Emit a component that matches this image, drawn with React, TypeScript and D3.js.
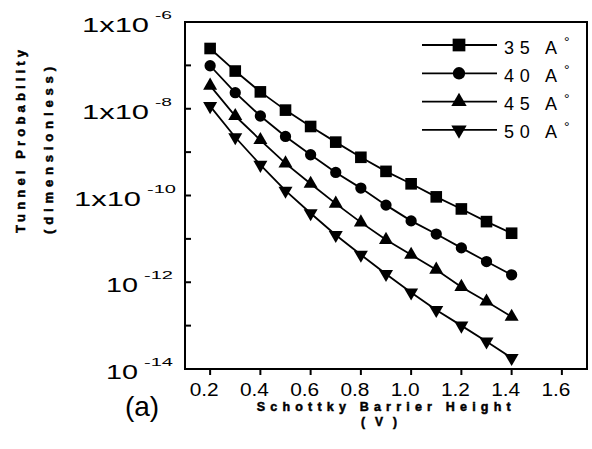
import React, { useEffect, useRef } from 'react';
import { select, scaleLinear, scaleLog, line, symbol, symbolSquare, symbolCircle, symbolTriangle } from 'd3';

// barrier height (V)
const voltages = [0.2, 0.3, 0.4, 0.5, 0.6, 0.7, 0.8, 0.9, 1.0, 1.1, 1.2, 1.3, 1.4];
// tunnel probability per barrier width
const p35 = [2.45e-7, 7.4e-8, 2.45e-8, 9.3e-9, 3.9e-9, 1.7e-9, 7.6e-10, 3.6e-10, 1.86e-10, 9.3e-11, 4.9e-11, 2.5e-11, 1.35e-11];
const p40 = [9.8e-8, 2.35e-8, 6.8e-9, 2.3e-9, 8.7e-10, 3.4e-10, 1.48e-10, 6.0e-11, 2.6e-11, 1.29e-11, 6.2e-12, 3.0e-12, 1.48e-12];
const p45 = [3.4e-8, 6.8e-9, 1.9e-9, 5.5e-10, 1.86e-10, 6.5e-11, 2.4e-11, 9.5e-12, 4.3e-12, 1.95e-12, 7.8e-13, 3.6e-13, 1.6e-13];
const p50 = [1.15e-8, 2.2e-9, 5.1e-10, 1.29e-10, 3.9e-11, 1.23e-11, 4.3e-12, 1.55e-12, 5.8e-13, 2.3e-13, 1.0e-13, 4.3e-14, 1.8e-14];
const seriesNames = ['35 A', '40 A', '45 A', '50 A'];

const xTicks = [0.2, 0.4, 0.6, 0.8, 1.0, 1.2, 1.4, 1.6];
const xTickLabels = ['0.2', '0.4', '0.6', '0.8', '1.0', '1.2', '1.4', '1.6'];
const yMajor = [1e-6, 1e-8, 1e-10, 1e-12, 1e-14];
const yMinor = [1e-7, 1e-9, 1e-11, 1e-13];
const yBase = ['1x10', '1x10', '1x10', '10', '10'];
const yExp = ['-6', '-8', '-10', '-12', '-14'];

const FONT = '"Liberation Sans", Arial, sans-serif';

export default function App() {
  const svgRef = useRef<SVGSVGElement>(null);

  useEffect(() => {
    const svg = select(svgRef.current);
    svg.selectAll('*').remove();

    const left = 185, right = 587, top = 22, bottom = 369;
    const x = scaleLinear().domain([0.1, 1.7]).range([left, right]);
    const y = scaleLog().domain([1e-14, 1e-6]).range([bottom, top]);

    const allSeries = [p35, p40, p45, p50];
    const shapes = [
      { type: symbolSquare, size: 135, rot: 0 },
      { type: symbolCircle, size: 100, rot: 0 },
      { type: symbolTriangle, size: 85, rot: 0 },
      { type: symbolTriangle, size: 85, rot: 180 },
    ];

    // frame
    svg
      .append('rect')
      .attr('x', left)
      .attr('y', top)
      .attr('width', right - left)
      .attr('height', bottom - top)
      .attr('fill', 'none')
      .attr('stroke', '#000')
      .attr('stroke-width', 2);

    // x ticks (outward)
    xTicks.forEach((t, i) => {
      svg
        .append('line')
        .attr('x1', x(t))
        .attr('x2', x(t))
        .attr('y1', bottom)
        .attr('y2', bottom + 6)
        .attr('stroke', '#000')
        .attr('stroke-width', 2);
      svg
        .append('text')
        .attr('x', x(t) - 6)
        .attr('y', bottom + 27)
        .attr('text-anchor', 'middle')
        .attr('font-family', FONT)
        .attr('font-size', 18)
        .attr('textLength', 29)
        .attr('lengthAdjust', 'spacingAndGlyphs')
        .text(xTickLabels[i]);
    });

    // y ticks (inward)
    [...yMajor, ...yMinor].forEach((t) => {
      svg
        .append('line')
        .attr('x1', left)
        .attr('x2', left + 6)
        .attr('y1', y(t))
        .attr('y2', y(t))
        .attr('stroke', '#000')
        .attr('stroke-width', 2);
    });

    yMajor.forEach((t, i) => {
      const long = yBase[i].length > 2;
      const mainEnd = long ? (yExp[i].length > 2 ? 141 : 149) : 138;
      svg
        .append('text')
        .attr('x', mainEnd)
        .attr('y', y(t) + 10)
        .attr('text-anchor', 'end')
        .attr('font-family', FONT)
        .attr('font-size', 20)
        .attr('textLength', long ? 67 : 32)
        .attr('lengthAdjust', 'spacingAndGlyphs')
        .text(yBase[i]);
      svg
        .append('text')
        .attr('x', mainEnd + 6)
        .attr('y', y(t) - 3)
        .attr('font-family', FONT)
        .attr('font-size', 11)
        .attr('textLength', yExp[i].length > 2 ? 29 : 17)
        .attr('lengthAdjust', 'spacingAndGlyphs')
        .text(yExp[i]);
    });

    // series
    const path = line<number>()
      .x((d, i) => x(voltages[i]))
      .y((d) => y(d));

    allSeries.forEach((vals, s) => {
      svg
        .append('path')
        .attr('d', path(vals))
        .attr('fill', 'none')
        .attr('stroke', '#000')
        .attr('stroke-width', 1.8);
      const sh = shapes[s];
      svg
        .append('g')
        .selectAll('path')
        .data(vals)
        .enter()
        .append('path')
        .attr('d', symbol().type(sh.type).size(sh.size)())
        .attr('transform', (d, i) => `translate(${x(voltages[i])},${y(d)}) rotate(${sh.rot})`)
        .attr('fill', '#000');
    });

    // legend
    seriesNames.forEach((name, s) => {
      const ly = 45 + s * 28.3;
      const sh = shapes[s];
      svg
        .append('line')
        .attr('x1', 422)
        .attr('x2', 497)
        .attr('y1', ly)
        .attr('y2', ly)
        .attr('stroke', '#000')
        .attr('stroke-width', 1.8);
      svg
        .append('path')
        .attr('d', symbol().type(sh.type).size(sh.size * 1.2)())
        .attr('transform', `translate(459,${ly}) rotate(${sh.rot})`)
        .attr('fill', '#000');
      svg
        .append('text')
        .attr('x', 504)
        .attr('y', ly + 8.5)
        .attr('font-family', FONT)
        .attr('font-size', 18)
        .attr('textLength', 53)
        .attr('lengthAdjust', 'spacing')
        .text(name);
      svg
        .append('text')
        .attr('x', 564)
        .attr('y', ly + 2)
        .attr('font-family', FONT)
        .attr('font-size', 14)
        .text('°');
    });

    // axis titles (heavy, letter-spaced)
    const title = (sel) =>
      sel
        .attr('text-anchor', 'middle')
        .attr('font-family', FONT)
        .attr('font-weight', 'bold')
        .attr('stroke', '#000')
        .attr('stroke-width', 0.5)
        .attr('lengthAdjust', 'spacing');

    svg
      .append('text')
      .call(title)
      .attr('transform', 'translate(24.5,141.5) rotate(-90)')
      .attr('font-size', 13)
      .attr('textLength', 183)
      .text('Tunnel Probability');
    svg
      .append('text')
      .call(title)
      .attr('transform', 'translate(53,150.5) rotate(-90)')
      .attr('font-size', 13)
      .attr('textLength', 167)
      .text('(dimensionless)');
    svg
      .append('text')
      .call(title)
      .attr('x', 383.7)
      .attr('y', 411)
      .attr('font-size', 12.5)
      .attr('textLength', 254)
      .text('Schottky Barrier Height');
    svg
      .append('text')
      .call(title)
      .attr('x', 379)
      .attr('y', 426)
      .attr('font-size', 12)
      .attr('textLength', 36)
      .text('(V)');

    // panel tag
    svg
      .append('text')
      .attr('x', 142)
      .attr('y', 416)
      .attr('text-anchor', 'middle')
      .attr('font-family', FONT)
      .attr('font-size', 28)
      .text('(a)');
  }, []);

  return (
    <svg
      ref={svgRef}
      width={592}
      height={449}
      style={{ position: 'absolute', left: 0, top: 0, background: '#fff' }}
    />
  );
}
